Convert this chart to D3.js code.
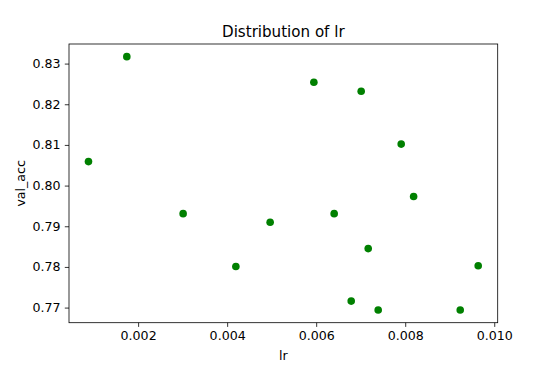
<!DOCTYPE html>
<html>
<head>
<meta charset="utf-8">
<script src="https://cdn.jsdelivr.net/npm/d3@7"></script>
<style>
  html, body { margin: 0; padding: 0; background: #fff; }
  svg { display: block; font-family: "DejaVu Sans", sans-serif; }
</style>
</head>
<body>
<svg id="chart" width="554" height="369"></svg>
<script>
const lrValues = [0.000885, 0.001746, 0.003011, 0.004196, 0.004966, 0.005948, 0.006404, 0.006787,
                  0.007011, 0.007169, 0.007393, 0.007910, 0.008189, 0.009236, 0.009640];
const valAcc   = [0.8059, 0.8317, 0.7931, 0.7801, 0.7910, 0.8254, 0.7931, 0.7716,
                  0.8232, 0.7845, 0.7694, 0.8102, 0.7973, 0.7694, 0.7803];
const xTicks = [0.002, 0.004, 0.006, 0.008, 0.010];
const yTicks = [0.77, 0.78, 0.79, 0.80, 0.81, 0.82, 0.83];
const titleText = "Distribution of lr";
const xLabel = "lr";
const yLabel = "val_acc";

const svg = d3.select("#chart");
const plotLeft = 69, plotRight = 497.7, plotTop = 44, plotBottom = 322.7;

function padded(arr) {
  const [a, b] = d3.extent(arr);
  const m = (b - a) * 0.05;
  return [a - m, b + m];
}

const x = d3.scaleLinear().domain(padded(lrValues)).range([plotLeft, plotRight]);
const y = d3.scaleLinear().domain(padded(valAcc)).range([plotBottom, plotTop]);

const tickLen = 4.2;
const xAxis = d3.axisBottom(x).tickValues(xTicks).tickFormat(d3.format(".3f"))
  .tickSizeInner(tickLen).tickSizeOuter(0).tickPadding(4.3);
const yAxis = d3.axisLeft(y).tickValues(yTicks).tickFormat(d3.format(".2f"))
  .tickSizeInner(tickLen).tickSizeOuter(0).tickPadding(4.2);

const gx = svg.append("g").attr("transform", `translate(0,${plotBottom})`).call(xAxis);
const gy = svg.append("g").attr("transform", `translate(${plotLeft},0)`).call(yAxis);
[gx, gy].forEach(g => {
  g.select(".domain").remove();
  g.selectAll(".tick line").attr("stroke", "#000").attr("stroke-width", 0.8);
  g.selectAll(".tick text").attr("fill", "#000").attr("font-size", 12.6)
    .attr("font-family", "DejaVu Sans, sans-serif");
});

// points
svg.append("g").selectAll("circle")
  .data(lrValues.map((v, i) => [v, valAcc[i]]))
  .join("circle")
  .attr("cx", d => x(d[0]))
  .attr("cy", d => y(d[1]))
  .attr("r", 3.8)
  .attr("fill", "#008000");

// frame
svg.append("rect")
  .attr("x", plotLeft).attr("y", plotTop)
  .attr("width", plotRight - plotLeft).attr("height", plotBottom - plotTop)
  .attr("fill", "none").attr("stroke", "#000").attr("stroke-width", 0.8);

svg.append("text")
  .attr("x", (plotLeft + plotRight) / 2).attr("y", 36.5)
  .attr("text-anchor", "middle").attr("font-size", 15.1).attr("fill", "#000")
  .text(titleText);

svg.append("text")
  .attr("x", (plotLeft + plotRight) / 2).attr("y", 359.5)
  .attr("text-anchor", "middle").attr("font-size", 12.6).attr("fill", "#000")
  .text(xLabel);

svg.append("text")
  .attr("transform", `translate(24.5,${(plotTop + plotBottom) / 2}) rotate(-90)`)
  .attr("text-anchor", "middle").attr("font-size", 12.6).attr("fill", "#000")
  .text(yLabel);
</script>
</body>
</html>
